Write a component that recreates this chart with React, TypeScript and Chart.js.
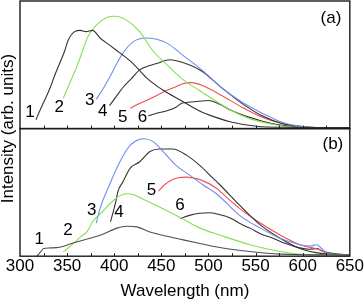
import { useEffect, useRef } from 'react';
import { Chart, registerables } from 'chart.js';
Chart.register(...registerables);

// ---- axis ----
const X_MIN = 300;
const X_MAX = 650;
const X_STEP = 50;
const X_MINOR = 25;

// ---- panel (a) ----
const aWl1 = [317, 321, 326, 332, 337, 342, 347, 351, 358, 364, 370, 377, 385, 394, 403, 412, 420, 434, 452, 471, 490, 507, 525, 553, 580, 620, 650];
const aInt1 = [7, 14, 22, 32, 42, 51, 60, 69, 76, 77, 76, 77, 71, 66, 61, 56, 51, 40, 30, 22, 14, 9, 5, 1.6, 1, 0.8, 0.8];
const aWl2 = [346, 353, 360, 366, 372, 381, 392, 401, 413, 427, 441, 456, 472, 490, 507, 525, 543, 564, 588, 620, 650];
const aInt2 = [24, 36, 48, 60, 72, 81, 87, 88, 85, 76, 61, 50, 39, 30, 22, 14, 8, 4, 1.2, 0.8, 0.8];
const aWl3 = [381, 388, 395, 402, 409, 420, 434, 445, 456, 472, 493, 514, 535, 557, 578, 602, 630, 650];
const aInt3 = [23, 31, 40, 50, 59, 68, 71, 70, 67, 58, 46, 32, 21, 12, 5, 1.5, 0.8, 0.8];
const aWl4 = [395, 402, 409, 418, 427, 436, 445, 459, 472, 493, 514, 535, 557, 578, 602, 630, 650];
const aInt4 = [18, 25, 32, 39, 46, 49, 51, 54, 52, 45, 32, 20, 10, 4, 1.5, 0.8, 0.8];
const aWl5 = [417, 425, 434, 445, 456, 466, 472, 482, 493, 514, 535, 557, 578, 602, 630, 650];
const aInt5 = [16, 19, 22, 26, 30, 33, 35, 36, 34, 26, 17, 9, 4, 1.5, 0.8, 0.8];
const aWl6 = [436, 445, 456, 466, 472, 485, 500, 512, 525, 543, 567, 596, 630, 650];
const aInt6 = [10, 12, 14, 17, 20, 21, 22, 19, 14, 9, 4, 1.2, 0.8, 0.8];

// ---- panel (b) ----
const bWl1 = [318, 322, 325, 332, 342, 355, 367, 385, 403, 413, 424, 438, 456, 472, 491, 512, 544, 576, 620, 650];
const bInt1 = [0, 3.5, 6, 6.5, 7, 10, 12.5, 16.4, 22, 23.5, 23, 19, 15.6, 13, 10, 6.8, 3.7, 1.6, 1, 1];
const bWl2 = [346, 352, 357, 364, 371, 378, 385, 392, 403, 413, 420, 427, 448, 472, 491, 512, 544, 576, 600, 650];
const bInt2 = [3.4, 7, 10, 15, 19, 28, 33, 38.5, 46, 49, 48.4, 46, 38.5, 29.5, 22, 16.6, 9, 3.7, 1.5, 1];
const bWl3 = [381, 385, 395, 406, 417, 427, 431, 441, 452, 466, 480, 494, 510, 533, 555, 576, 597, 608, 615, 620, 625, 632, 650];
const bInt3 = [26, 37.5, 56, 74, 87, 91.6, 92, 90, 82, 71, 63.5, 56, 48, 32, 22, 14, 9, 8, 9, 6, 3, 1.5, 1];
const bWl4 = [396, 399, 402, 404, 409, 417, 427, 438, 448, 462, 477, 491, 505, 512, 533, 555, 576, 597, 621, 650];
const bInt4 = [27, 35, 44, 51, 58, 69, 74, 82, 84, 84, 79, 71, 61, 56, 40, 24.5, 14, 6, 2, 1];
const bWl5 = [447, 452, 459, 468, 477, 491, 509, 512, 533, 555, 576, 597, 618, 627, 650];
const bInt5 = [51, 55, 59, 61.5, 62, 60, 53, 51, 37.5, 26, 16.6, 9, 5, 2, 1];
const bWl6 = [470, 480, 491, 501, 512, 523, 535, 544, 557, 565, 578, 586, 597, 607, 615, 621, 633, 650];
const bInt6 = [29.5, 32, 33.6, 34, 32.5, 30, 25, 22, 17, 15, 11, 9, 6.5, 5.5, 6, 4, 2, 1];

const CURVE_NAMES = ['1', '2', '3', '4', '5', '6'];
const PANEL_NAMES = ['(a)', '(b)'];
const X_TITLE = 'Wavelength (nm)';
const Y_TITLE = 'Intensity (arb. units)';

// label anchor points [wavelength, intensity]
const A_LABEL_POS = [[310.6, 12.6], [341.7, 16.8], [374, 22], [387.7, 13.6], [409, 8.9], [430, 8.9]];
const B_LABEL_POS = [[320.5, 13], [351, 20.3], [376, 36], [405, 34.6], [439.6, 52], [469.7, 39.6]];
const PANEL_LABEL_POS = [[630, 86.5], [632, 88]];

const BLACK = '#333333';
const GREEN = '#84e052';
const BLUE = '#6f8cf2';
const RED = '#f0504c';
const GRAY = '#505050';
const FONT = '"Liberation Sans", Arial, sans-serif';
const FS = 17;

function series(wl: number[], v: number[], color: string, axis: string) {
  return {
    data: wl.map((x, i) => ({ x, y: v[i] })),
    borderColor: color,
    borderWidth: 1.1,
    pointRadius: 0,
    fill: false,
    cubicInterpolationMode: 'monotone' as const,
    yAxisID: axis,
  };
}

const decor = {
  id: 'decor',
  afterDatasetsDraw(chart: any) {
    const { ctx, chartArea, scales } = chart;
    const xs = scales.x;
    ctx.save();
    const panels = [scales.ya, scales.yb];
    panels.forEach((s: any) => {
      ctx.strokeStyle = '#1a1a1a';
      ctx.lineWidth = 1.4;
      ctx.strokeRect(chartArea.left, s.top, chartArea.right - chartArea.left, s.bottom - s.top);
      ctx.lineWidth = 1;
      for (let w = X_MIN + X_MINOR; w < X_MAX; w += X_MINOR) {
        const px = Math.round(xs.getPixelForValue(w)) + 0.5;
        ctx.beginPath();
        ctx.moveTo(px, s.bottom);
        ctx.lineTo(px, s.bottom - 3);
        ctx.stroke();
      }
    });
    ctx.fillStyle = '#000';
    ctx.font = FS + 'px ' + FONT;
    ctx.textAlign = 'center';
    ctx.textBaseline = 'middle';
    A_LABEL_POS.forEach((p, i) => {
      ctx.fillText(CURVE_NAMES[i], xs.getPixelForValue(p[0]), scales.ya.getPixelForValue(p[1]));
    });
    B_LABEL_POS.forEach((p, i) => {
      ctx.fillText(CURVE_NAMES[i], xs.getPixelForValue(p[0]), scales.yb.getPixelForValue(p[1]));
    });
    ctx.fillText(PANEL_NAMES[0], xs.getPixelForValue(PANEL_LABEL_POS[0][0]), scales.ya.getPixelForValue(PANEL_LABEL_POS[0][1]));
    ctx.fillText(PANEL_NAMES[1], xs.getPixelForValue(PANEL_LABEL_POS[1][0]), scales.yb.getPixelForValue(PANEL_LABEL_POS[1][1]));
    ctx.restore();
  },
};

export default function App() {
  const ref = useRef<HTMLCanvasElement>(null);
  useEffect(() => {
    const chart = new Chart(ref.current!, {
      type: 'line',
      data: {
        datasets: [
          series(aWl1, aInt1, BLACK, 'ya'),
          series(aWl2, aInt2, GREEN, 'ya'),
          series(aWl3, aInt3, BLUE, 'ya'),
          series(aWl4, aInt4, BLACK, 'ya'),
          series(aWl5, aInt5, RED, 'ya'),
          series(aWl6, aInt6, BLACK, 'ya'),
          series(bWl1, bInt1, GRAY, 'yb'),
          series(bWl2, bInt2, GREEN, 'yb'),
          series(bWl3, bInt3, BLUE, 'yb'),
          series(bWl4, bInt4, BLACK, 'yb'),
          series(bWl5, bInt5, RED, 'yb'),
          series(bWl6, bInt6, BLACK, 'yb'),
        ],
      },
      options: {
        responsive: false,
        animation: false,
        devicePixelRatio: 1,
        layout: { autoPadding: false, padding: { top: 1, right: 14, bottom: 0, left: 0 } },
        plugins: { legend: { display: false }, tooltip: { enabled: false } },
        scales: {
          x: {
            type: 'linear',
            position: 'bottom',
            min: X_MIN,
            max: X_MAX,
            grid: { display: false, drawTicks: false },
            border: { display: false },
            ticks: { stepSize: X_STEP, color: '#000', padding: 0, font: { family: FONT, size: FS } },
            title: { display: true, text: X_TITLE, color: '#000', padding: { top: 5, bottom: 1 }, font: { family: FONT, size: FS } },
          },
          yb: {
            type: 'linear',
            position: 'left',
            stack: 'panels',
            stackWeight: 1,
            min: 0,
            max: 100,
            display: false,
          },
          ya: {
            type: 'linear',
            position: 'left',
            stack: 'panels',
            stackWeight: 1,
            min: 0,
            max: 100,
            display: false,
          },
          yt: {
            type: 'linear',
            position: 'left',
            min: 0,
            max: 1,
            grid: { display: false, drawTicks: false },
            border: { display: false },
            ticks: { display: false },
            title: { display: true, text: Y_TITLE, color: '#000', padding: { top: 0, bottom: 3 }, font: { family: FONT, size: FS, lineHeight: 1 } },
          },
        },
      } as any,
      plugins: [decor],
    });
    return () => chart.destroy();
  }, []);
  return (
    <div style={{ position: 'fixed', left: 0, top: 0, width: 364, height: 303, background: '#fff' }}>
      <canvas ref={ref} width={364} height={303} />
    </div>
  );
}
